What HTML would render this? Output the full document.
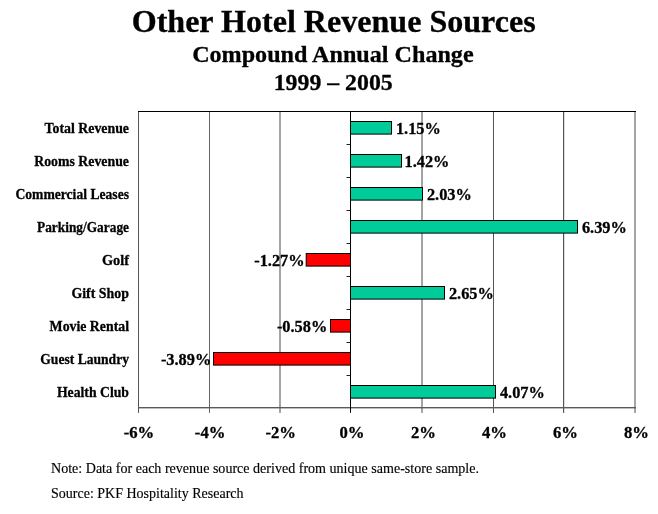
<!DOCTYPE html>
<html><head><meta charset="utf-8"><title>Other Hotel Revenue Sources</title>
<style>
html,body{margin:0;padding:0;background:#fff;}
body{width:658px;height:514px;overflow:hidden;}
svg{display:block;}
text{font-family:"Liberation Serif",serif;fill:#000;}
.b{font-weight:bold;stroke:#000;stroke-width:0.3px;}
</style></head><body>
<svg width="658" height="514" viewBox="0 0 658 514">
<rect width="658" height="514" fill="#fff"/>
<rect x="138" y="111" width="1" height="301.9" fill="#555"/>
<rect x="209" y="111" width="1" height="301.9" fill="#666"/>
<rect x="279" y="111" width="2" height="301.9" fill="#a4a4a4"/>
<rect x="421" y="111" width="2" height="301.9" fill="#a4a4a4"/>
<rect x="493" y="111" width="1" height="301.9" fill="#555"/>
<rect x="563" y="111" width="1.2" height="301.9" fill="#555"/>
<rect x="634" y="111" width="2" height="301.9" fill="#a4a4a4"/>
<rect x="138" y="407" width="498" height="1.4" fill="#5a5a5a"/>
<rect x="138" y="111" width="498" height="1" fill="#000"/>
<rect x="350" y="111" width="1" height="301.9" fill="#000"/>
<rect x="346.5" y="144" width="4" height="1" fill="#222"/>
<rect x="346.5" y="177" width="4" height="1" fill="#222"/>
<rect x="346.5" y="210" width="4" height="1" fill="#222"/>
<rect x="346.5" y="243" width="4" height="1" fill="#222"/>
<rect x="346.5" y="276" width="4" height="1" fill="#222"/>
<rect x="346.5" y="309" width="4" height="1" fill="#222"/>
<rect x="346.5" y="342" width="4" height="1" fill="#222"/>
<rect x="346.5" y="375" width="4" height="1" fill="#222"/>
<rect x="350.5" y="121.5" width="41.0" height="12.6" fill="#00CC99" stroke="#000" stroke-width="1"/>
<rect x="350.5" y="154.5" width="51.0" height="12.6" fill="#00CC99" stroke="#000" stroke-width="1"/>
<rect x="350.5" y="187.5" width="72.0" height="12.6" fill="#00CC99" stroke="#000" stroke-width="1"/>
<rect x="350.5" y="220.5" width="227.0" height="12.6" fill="#00CC99" stroke="#000" stroke-width="1"/>
<rect x="306.2" y="253.5" width="44.3" height="12.6" fill="#FF0000" stroke="#000" stroke-width="1"/>
<rect x="350.5" y="286.5" width="94.0" height="12.6" fill="#00CC99" stroke="#000" stroke-width="1"/>
<rect x="330.5" y="319.5" width="20.0" height="12.6" fill="#FF0000" stroke="#000" stroke-width="1"/>
<rect x="213.5" y="352.5" width="137.0" height="12.6" fill="#FF0000" stroke="#000" stroke-width="1"/>
<rect x="350.5" y="385.5" width="145.0" height="12.6" fill="#00CC99" stroke="#000" stroke-width="1"/>
<g opacity="0.999">
<text class="b" x="333.7" y="31.8" font-size="32" text-anchor="middle" textLength="404" lengthAdjust="spacingAndGlyphs">Other Hotel Revenue Sources</text>
<text class="b" x="332.9" y="61.9" font-size="24" text-anchor="middle" textLength="281.5" lengthAdjust="spacingAndGlyphs">Compound Annual Change</text>
<text class="b" x="333.2" y="90.3" font-size="24" text-anchor="middle" textLength="119" lengthAdjust="spacingAndGlyphs">1999 – 2005</text>
<text class="b" transform="translate(395.9,134.3) scale(0.985,1)" font-size="16.6">1.15%</text>
<text class="b" x="129" y="133.2" font-size="15" text-anchor="end" textLength="84.5" lengthAdjust="spacingAndGlyphs">Total Revenue</text>
<text class="b" transform="translate(404.5,167.3) scale(0.985,1)" font-size="16.6">1.42%</text>
<text class="b" x="129" y="166.2" font-size="15" text-anchor="end" textLength="94.8" lengthAdjust="spacingAndGlyphs">Rooms Revenue</text>
<text class="b" transform="translate(426.9,200.3) scale(0.985,1)" font-size="16.6">2.03%</text>
<text class="b" x="129" y="199.2" font-size="15" text-anchor="end" textLength="113.6" lengthAdjust="spacingAndGlyphs">Commercial Leases</text>
<text class="b" transform="translate(581.9,233.3) scale(0.985,1)" font-size="16.6">6.39%</text>
<text class="b" x="129" y="232.2" font-size="15" text-anchor="end" textLength="92.0" lengthAdjust="spacingAndGlyphs">Parking/Garage</text>
<text class="b" transform="translate(304.6,266.3) scale(0.985,1)" font-size="16.6" text-anchor="end">-1.27%</text>
<text class="b" x="129" y="265.2" font-size="15" text-anchor="end" textLength="27.1" lengthAdjust="spacingAndGlyphs">Golf</text>
<text class="b" transform="translate(448.9,299.3) scale(0.985,1)" font-size="16.6">2.65%</text>
<text class="b" x="129" y="298.2" font-size="15" text-anchor="end" textLength="57.6" lengthAdjust="spacingAndGlyphs">Gift Shop</text>
<text class="b" transform="translate(327.3,332.3) scale(0.985,1)" font-size="16.6" text-anchor="end">-0.58%</text>
<text class="b" x="129" y="331.2" font-size="15" text-anchor="end" textLength="79.4" lengthAdjust="spacingAndGlyphs">Movie Rental</text>
<text class="b" transform="translate(211.3,365.3) scale(0.985,1)" font-size="16.6" text-anchor="end">-3.89%</text>
<text class="b" x="129" y="364.2" font-size="15" text-anchor="end" textLength="88.7" lengthAdjust="spacingAndGlyphs">Guest Laundry</text>
<text class="b" transform="translate(499.9,398.3) scale(0.985,1)" font-size="16.6">4.07%</text>
<text class="b" x="129" y="397.2" font-size="15" text-anchor="end" textLength="72.1" lengthAdjust="spacingAndGlyphs">Health Club</text>
<text class="b" transform="translate(139.0,437.9) scale(1.005,1)" font-size="16.6" text-anchor="middle">-6%</text>
<text class="b" transform="translate(210.1,437.9) scale(1.005,1)" font-size="16.6" text-anchor="middle">-4%</text>
<text class="b" transform="translate(280.7,437.9) scale(1.005,1)" font-size="16.6" text-anchor="middle">-2%</text>
<text class="b" transform="translate(351.9,437.9) scale(1.005,1)" font-size="16.6" text-anchor="middle">0%</text>
<text class="b" transform="translate(423.4,437.9) scale(1.005,1)" font-size="16.6" text-anchor="middle">2%</text>
<text class="b" transform="translate(494.4,437.9) scale(1.005,1)" font-size="16.6" text-anchor="middle">4%</text>
<text class="b" transform="translate(565.4,437.9) scale(1.005,1)" font-size="16.6" text-anchor="middle">6%</text>
<text class="b" transform="translate(636.5,437.9) scale(1.005,1)" font-size="16.6" text-anchor="middle">8%</text>
<text x="51" y="473.4" font-size="14.3" textLength="428" stroke="#000" stroke-width="0.15" lengthAdjust="spacingAndGlyphs">Note: Data for each revenue source derived from unique same-store sample.</text>
<text x="51" y="497.8" font-size="14.3" textLength="192.6" stroke="#000" stroke-width="0.15" lengthAdjust="spacingAndGlyphs">Source: PKF Hospitality Research</text>
</g>
</svg>
</body></html>
